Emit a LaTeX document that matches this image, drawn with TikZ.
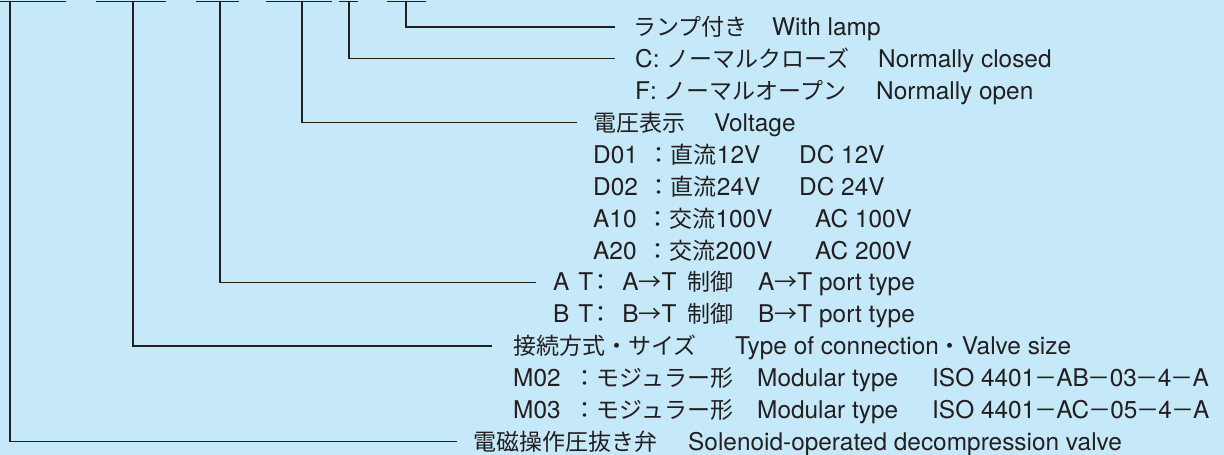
\documentclass[tikz,border=0pt]{standalone}
\usepackage{fontspec}
\setmainfont{TeX Gyre Heros}
\newfontfamily\jpfont{Noto Sans CJK JP}
\newcommand\jp[1]{{\jpfont\fontsize{23}{28}\selectfont #1}}
\newcommand\isodash{\makebox[21pt]{\jp{－}}}
\definecolor{bg}{RGB}{198,233,249}
\definecolor{ink}{RGB}{35,31,32}
\begin{document}
\begin{tikzpicture}[x=1pt,y=-1pt,
  lbl/.style={anchor=west,inner sep=0pt,text height=17.4pt,text depth=0pt,
              font=\fontsize{24.4}{28}\selectfont,text=ink},
  wire/.style={draw=ink,line width=1.1pt},
  bar/.style={draw=ink,line width=1.1pt}]
\fill[bg] (0,0) rectangle (1224,455);
\useasboundingbox (0,0) rectangle (1224,455);

% code underline bars
\draw[bar] (0,1.5) -- (66,1.5);
\draw[bar] (96,1.5) -- (166,1.5);
\draw[bar] (196,1.5) -- (239,1.5);
\draw[bar] (266,1.5) -- (332,1.5);
\draw[bar] (339,1.5) -- (358,1.5);
\draw[bar] (387,1.5) -- (426,1.5);
\coordinate (b1) at (10,1.5);
\coordinate (b2) at (133,1.5);
\coordinate (b3) at (220,1.5);
\coordinate (b4) at (302,1.5);
\coordinate (b5) at (349,1.5);
\coordinate (b6) at (406,1.5);

% labels
\node[lbl] (j0) at (633,27) {\jp{ランプ付き}};
\node[lbl] (e0) at (772,27) {With lamp};
\node[lbl] (j1) at (635,58.9) {C: \jp{ノーマルクローズ}};
\node[lbl] (e1) at (878,58.9) {Normally closed};
\node[lbl] (j2) at (635,90.8) {F: \jp{ノーマルオープン}};
\node[lbl] (e2) at (876,90.8) {Normally open};
\node[lbl] (j3) at (593,122.7) {\jp{電圧表示}};
\node[lbl] (e3) at (714,122.7) {Voltage};
\node[lbl] (j4) at (593,154.6) {D01\hspace{10pt}\jp{：直流}12V};
\node[lbl] (e4) at (799,154.6) {DC 12V};
\node[lbl] (j5) at (593,186.5) {D02\hspace{10pt}\jp{：直流}24V};
\node[lbl] (e5) at (799,186.5) {DC 24V};
\node[lbl] (j6) at (593,218.4) {A10\hspace{10pt}\jp{：交流}100V};
\node[lbl] (e6) at (815,218.4) {AC 100V};
\node[lbl] (j7) at (593,250.3) {A20\hspace{10pt}\jp{：交流}200V};
\node[lbl] (e7) at (815,250.3) {AC 200V};
\node[lbl] (j8) at (553,282.2) {A\hspace{9pt}T\hspace{-4pt}\jp{：}\hspace{10pt}A\jp{→}T\hspace{11pt}\jp{制御}};
\node[lbl] (e8) at (758,282.2) {A\jp{→}T port type};
\node[lbl] (j9) at (553,314.1) {B\hspace{9pt}T\hspace{-4pt}\jp{：}\hspace{10pt}B\jp{→}T\hspace{11pt}\jp{制御}};
\node[lbl] (e9) at (758,314.1) {B\jp{→}T port type};
\node[lbl] (j10) at (513,346) {\jp{接続方式・サイズ}};
\node[lbl] (e10) at (735,346) {Type of connection\jp{・}Valve size};
\node[lbl] (j11) at (513,377.9) {M02\hspace{13pt}\jp{：モジュラー形}};
\node[lbl] (e11) at (757,377.9) {Modular type};
\node[lbl] (i11) at (932,377.9) {ISO 4401\isodash AB\isodash 03\isodash 4\isodash A};
\node[lbl] (j12) at (513,409.8) {M03\hspace{13pt}\jp{：モジュラー形}};
\node[lbl] (e12) at (757,409.8) {Modular type};
\node[lbl] (i12) at (932,409.8) {ISO 4401\isodash AC\isodash 05\isodash 4\isodash A};
\node[lbl] (j13) at (473,441.7) {\jp{電磁操作圧抜き弁}};
\node[lbl] (e13) at (688,441.7) {Solenoid-operated decompression valve};

% connectors
\draw[wire] (b6) |- ([xshift=-18pt]j0.west);
\draw[wire] (b5) |- ([xshift=-20pt]j1.west);
\draw[wire] (b4) |- ([xshift=-16pt]j3.west);
\draw[wire] (b3) |- ([xshift=-17pt]j8.west);
\draw[wire] (b2) |- ([xshift=-21pt]j10.west);
\draw[wire] (b1) |- ([xshift=-16pt]j13.west);
\end{tikzpicture}
\end{document}
